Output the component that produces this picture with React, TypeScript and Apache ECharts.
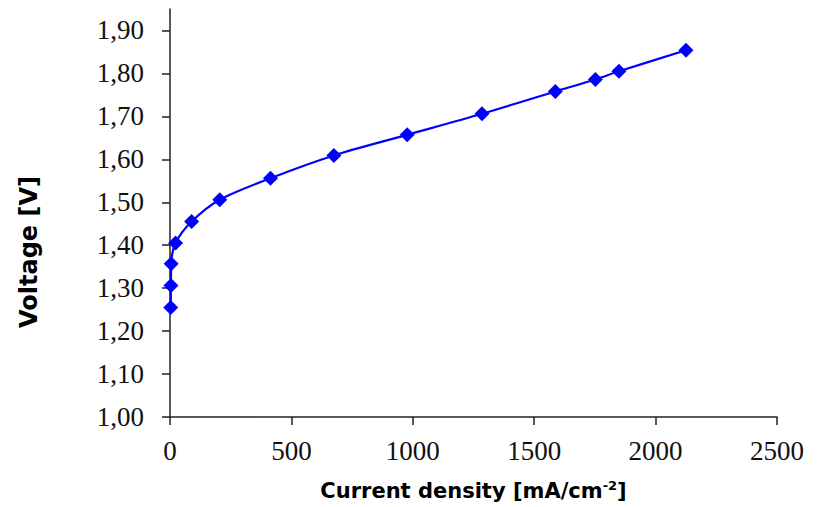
import React, { useEffect, useRef } from "react";
import * as echarts from "echarts";

const currentDensity = [3, 4, 5, 23, 89, 205, 414, 675, 977, 1285, 1587, 1752, 1849, 2125];
const voltage = [1.255, 1.306, 1.357, 1.405, 1.455, 1.506, 1.556, 1.609, 1.657, 1.706, 1.758, 1.786, 1.805, 1.854];
const yTicks = [1.0, 1.1, 1.2, 1.3, 1.4, 1.5, 1.6, 1.7, 1.8, 1.9];
const xTitle = "Current density [mA/cm{sup|-2}]";
const yTitle = "Voltage [V]";

export default function App() {
  const ref = useRef<HTMLDivElement>(null);
  useEffect(() => {
    if (!ref.current) return;
    const chart = echarts.init(ref.current, null, { renderer: "svg" });
    const axisLine = { show: true, lineStyle: { color: "#222", width: 1.5 } };
    const labelStyle = {
      fontFamily: "'Liberation Serif', 'Times New Roman', serif",
      fontSize: 27,
      color: "#111",
    };
    chart.setOption({
      animation: false,
      backgroundColor: "#fff",
      grid: { left: 170, right: 41, top: 9, bottom: 90, containLabel: false },
      xAxis: {
        type: "value",
        min: 0,
        max: 2500,
        interval: 500,
        splitLine: { show: false },
        axisLine,
        axisTick: { show: true, length: 8, lineStyle: { color: "#222", width: 1.5 } },
        axisLabel: { ...labelStyle, margin: 20, formatter: (v: number) => String(v) },
        name: xTitle,
        nameLocation: "middle",
        nameGap: 62,
        nameTextStyle: {
          fontFamily: "'DejaVu Sans', sans-serif",
          fontWeight: "bold",
          fontSize: 21,
          color: "#000",
          rich: {
            sup: {
              fontFamily: "'DejaVu Sans', sans-serif",
              fontWeight: "bold",
              fontSize: 13,
              color: "#000",
              padding: [0, 0, 10, 0],
            },
          },
        },
      },
      yAxis: {
        type: "value",
        min: 1.0,
        max: 1.95,
        splitLine: { show: false },
        axisLine,
        axisTick: {
          show: true,
          length: 8,
          customValues: yTicks,
          lineStyle: { color: "#222", width: 1.5 },
        },
        axisLabel: {
          ...labelStyle,
          margin: 26,
          customValues: yTicks,
          formatter: (v: number) => v.toFixed(2).replace(".", ","),
        },
        name: yTitle,
        nameLocation: "middle",
        nameRotate: 90,
        nameGap: 129,
        nameTextStyle: {
          fontFamily: "'DejaVu Sans', sans-serif",
          fontWeight: "bold",
          fontSize: 24,
          color: "#000",
          padding: [0, 78, 0, 0],
        },
      },
      series: [
        {
          type: "line",
          data: currentDensity.map((x, i) => [x, voltage[i]]),
          smooth: 0.3,
          symbol: "diamond",
          symbolSize: 15,
          itemStyle: { color: "#0000FF" },
          lineStyle: { color: "#0000FF", width: 2.2 },
        },
      ],
    });
    return () => chart.dispose();
  }, []);
  return (
    <div
      ref={ref}
      style={{ position: "absolute", left: 0, top: 0, width: 818, height: 507 }}
    />
  );
}
